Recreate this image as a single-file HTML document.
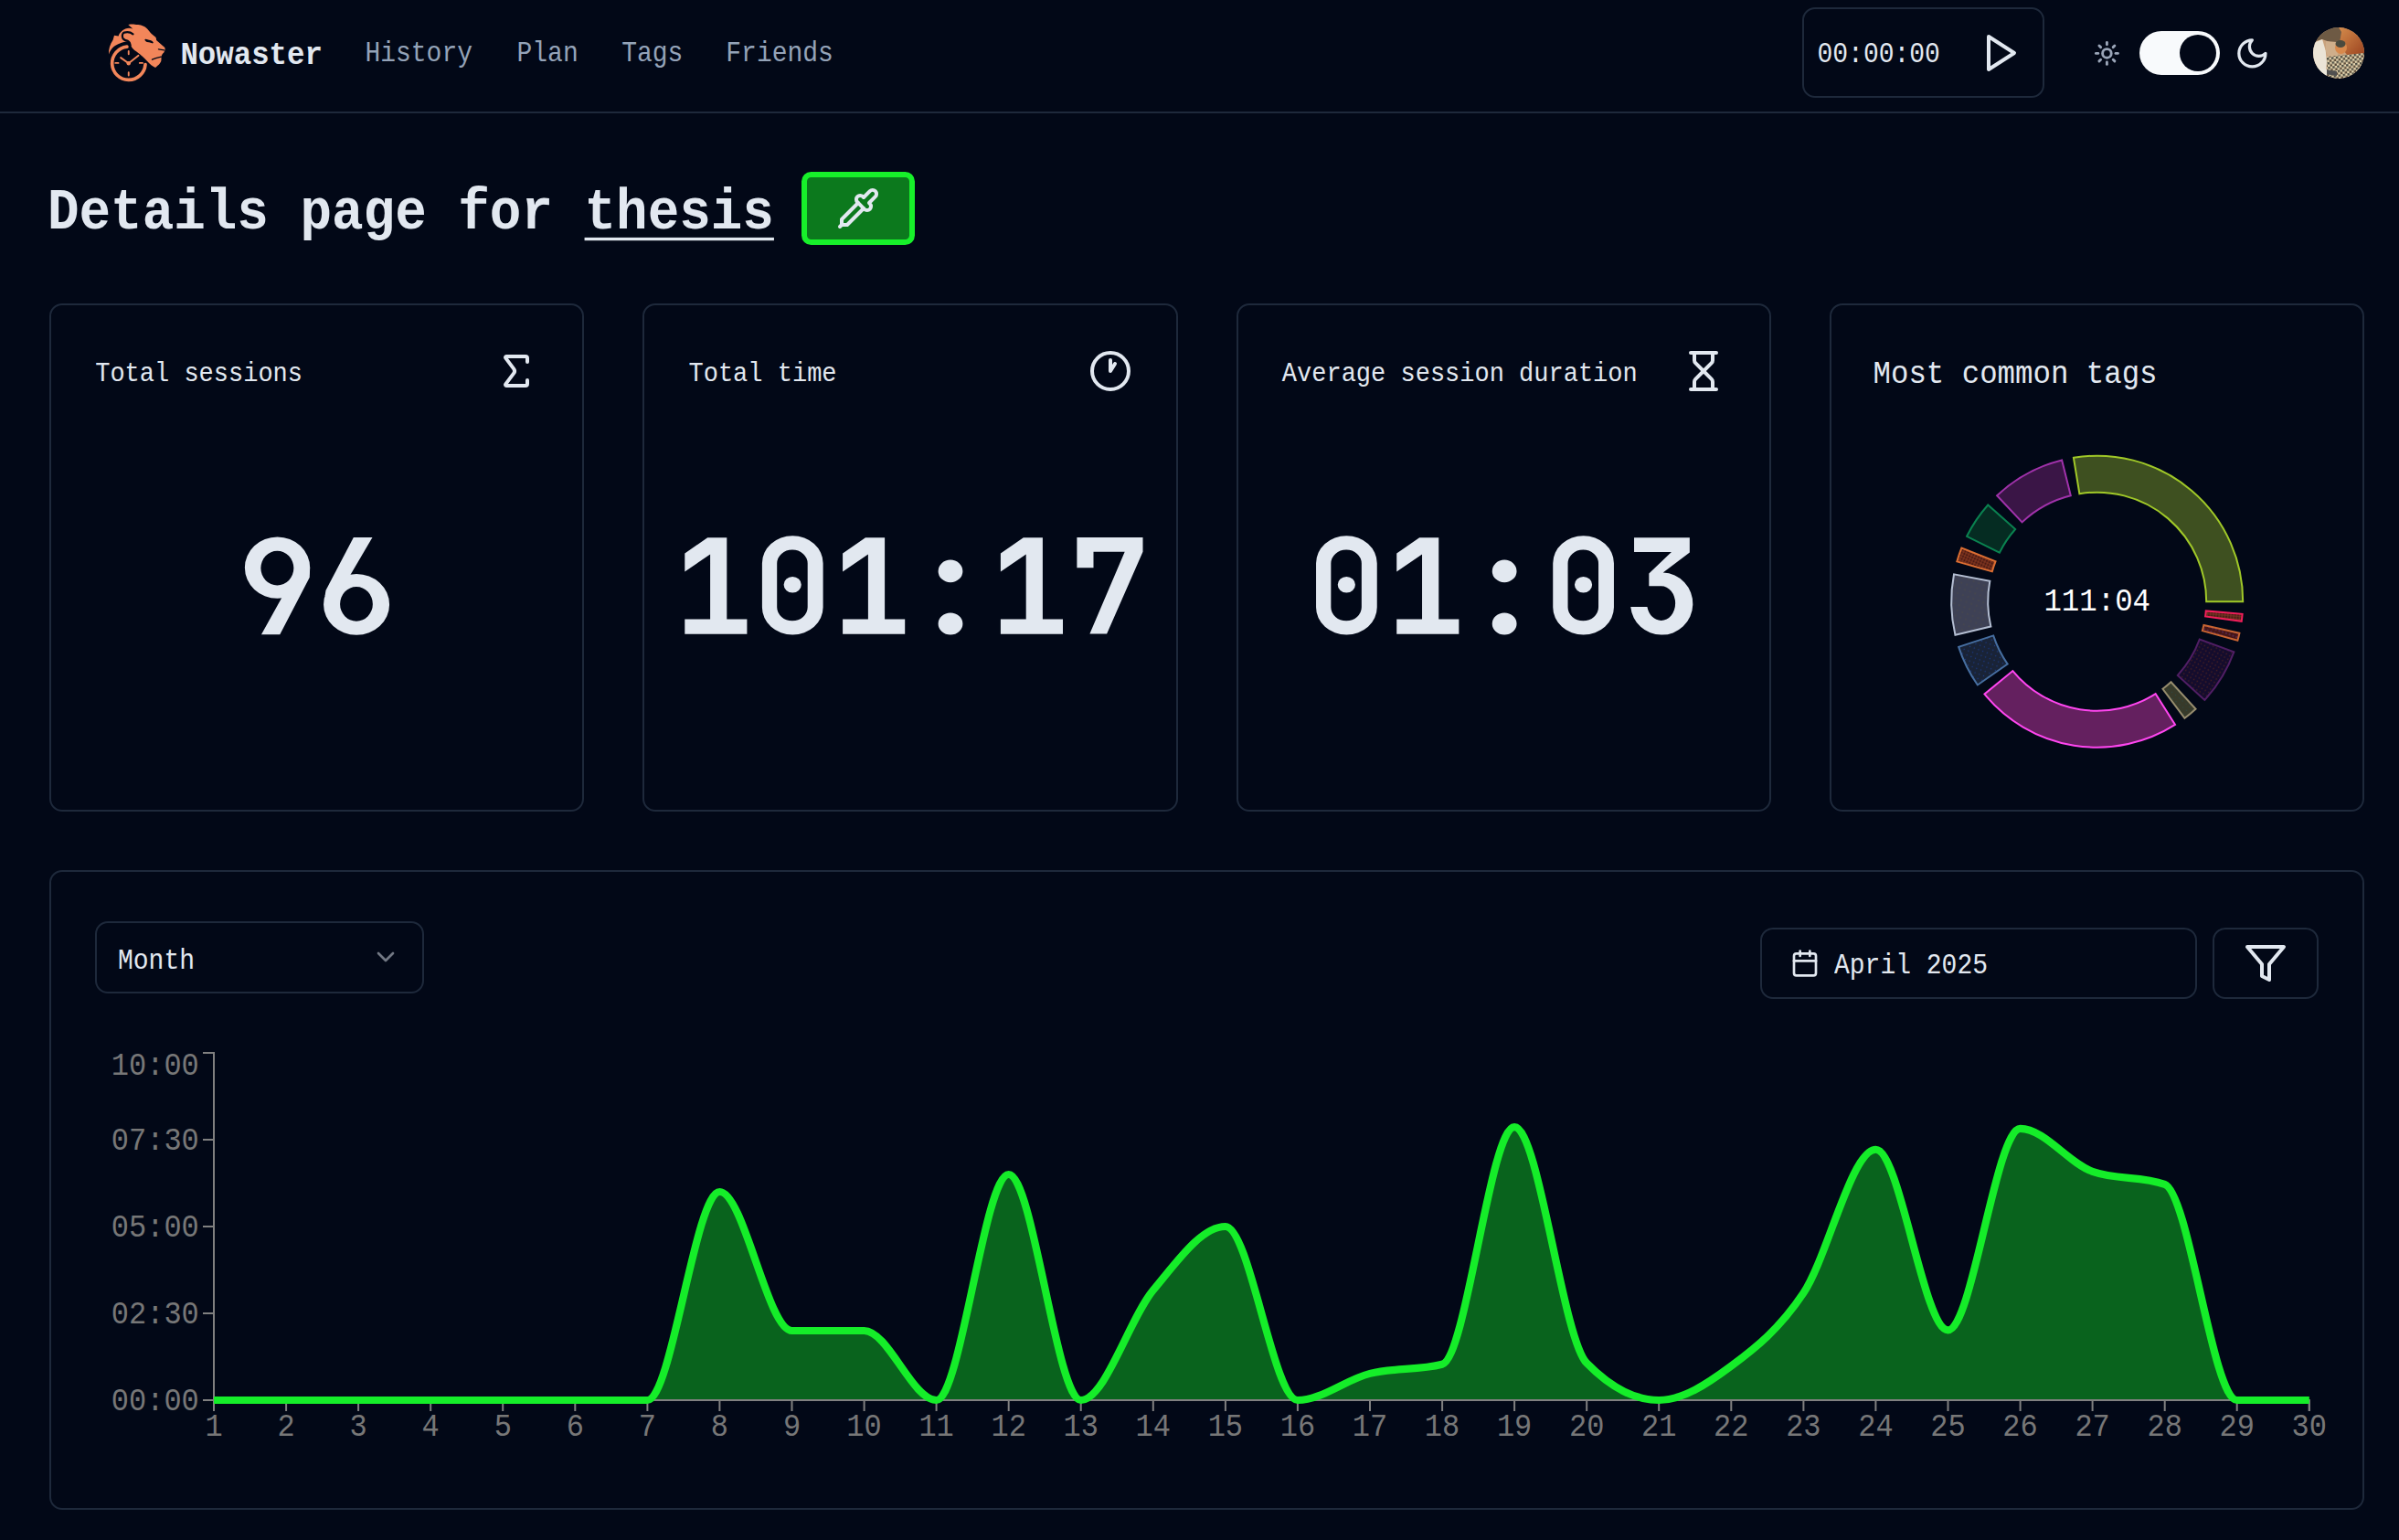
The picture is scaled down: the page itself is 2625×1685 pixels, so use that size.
<!DOCTYPE html>
<html><head><meta charset="utf-8"><style>
html,body{margin:0;padding:0;background:#020817;}
body{width:2625px;height:1685px;position:relative;overflow:hidden;font-family:"Liberation Mono",monospace;}
.t{position:absolute;white-space:pre;}
svg{overflow:visible}
</style></head><body>
<div style="position:absolute;left:0;top:0;width:2625px;height:122px;border-bottom:2px solid #1e293b"></div>
<svg style="position:absolute;left:112px;top:22px" width="75" height="72" viewBox="0 0 75 72">
<g fill="#f2865a">
<path d="M28.3,5.1 C31,4.6 33,4.5 35.5,4.7 C38,4.9 40.5,5.2 42.1,5.6 C44,6.2 45.5,6.8 46.8,7.5 C48.5,8.8 49.8,10.2 51,11.7 C52,13 52.8,14 53.8,15 C55.5,16.5 57,17.5 58.4,18.7 C59,19.8 59.2,21 59.1,22 L68.3,29.9 C68.7,30.8 68.7,31.8 68.5,32.7 L67.3,35.5 C66.5,36.2 65.8,36.8 65.5,37.4 C64.9,38.4 64.6,39.3 64.5,40.2 C64.6,41.8 64.5,43.4 64.3,44.9 C63.5,46.8 62.3,48.3 60.8,49.6 C60,50.6 59,51.4 58,51.9 C56.5,51.3 55,50.5 53.8,49.6 C52,48 50.5,46.5 49.1,44.9 C47.5,43.2 46,41.7 44.4,40.2 C42.2,38.2 39.8,36.3 37.4,34.6 C35.7,33.3 34,32 32.7,30.4 C31.8,29.2 31.2,27.8 30.9,26.2 L29.9,23.4 C28.7,23.5 27.4,23.4 26.2,23.4 C24.5,23.7 22.8,24.2 21,24.8 C18.5,25.7 16,26.8 14,28 C12,29.3 10.4,30.9 9.35,32.7 C8.3,34.2 7.5,35.8 7,37.4 C6.6,32.5 8.3,26.5 11.6,21.8 L13,16.8 L17.6,17.4 C18.5,14 21.2,11.2 25.2,9.4 C28,8.4 31,8.5 33.3,9.6 Z"/>
</g>
<g fill="none" stroke="#020817" stroke-linecap="round">
<path d="M33.5,15.3 C31,13.3 27,12.9 23.9,13.6 C21.7,14.5 21.4,17.5 22.4,19.8 C23.6,21.7 25.6,22.4 28,22.9 C29.5,23.6 30.2,25.5 30.6,27.4" stroke-width="2.2"/>
<path d="M47.3,21.6 C49.5,22.4 52,22.9 54.8,24.5" stroke-width="1.8"/>
<path d="M61.5,31.9 C63.5,32.2 65.5,32.6 67.5,32.9" stroke-width="1.4"/>
<path d="M54.5,43.2 C57.5,41.8 61,40.9 64.3,40.1" stroke-width="1.4"/>
</g>
<ellipse cx="51" cy="23.1" rx="4" ry="1.3" transform="rotate(14 51 23.1)" fill="#020817"/>
<g fill="none" stroke="#f2865a" stroke-linecap="round">
<path d="M26.9,29.1 A18.2,18.2 0 1 0 47.0,48.6" stroke-width="3.7"/>
<path d="M20.1,41.1 L28.75,47.2 L39.5,38.8" stroke-width="1.9"/>
<path d="M28.75,34 V37.2 M28.75,57.3 V60.5 M14.3,46.9 H17.5 M40.8,46.9 H44" stroke-width="1.9"/>
</g>
<circle cx="28.75" cy="47.2" r="2.2" fill="#f2865a"/>
</svg>

<div class="t" style="left:197.40px;top:45.78px;font-size:32.40px;line-height:32.40px;color:#e2e8f0;font-weight:700;transform:scaleY(1.1000);transform-origin:0 24.82px;">Nowaster</div>
<div class="t" style="left:399.40px;top:45.55px;font-size:28.00px;line-height:28.00px;color:#94a3b8;font-weight:400;transform:scaleY(1.1000);transform-origin:0 21.45px;">History</div>
<div class="t" style="left:565.50px;top:45.55px;font-size:28.00px;line-height:28.00px;color:#94a3b8;font-weight:400;transform:scaleY(1.1000);transform-origin:0 21.45px;">Plan</div>
<div class="t" style="left:680.20px;top:45.55px;font-size:28.00px;line-height:28.00px;color:#94a3b8;font-weight:400;transform:scaleY(1.1000);transform-origin:0 21.45px;">Tags</div>
<div class="t" style="left:794.30px;top:45.55px;font-size:28.00px;line-height:28.00px;color:#94a3b8;font-weight:400;transform:scaleY(1.1000);transform-origin:0 21.45px;">Friends</div>
<div style="position:absolute;left:1972px;top:8px;width:261px;height:95px;border:2px solid #1e293b;border-radius:14px"></div>
<div class="t" style="left:1988.50px;top:46.75px;font-size:28.00px;line-height:28.00px;color:#e2e8f0;font-weight:400;transform:scaleY(1.1000);transform-origin:0 21.45px;">00:00:00</div>
<svg style="position:absolute;left:2164px;top:34px" width="48" height="48" viewBox="0 0 24 24" fill="none" stroke="#e2e8f0" stroke-width="2" stroke-linecap="round" stroke-linejoin="round"><polygon points="6 3 20 12 6 21 6 3"/></svg>
<svg style="position:absolute;left:2290.6px;top:43.6px" width="28.8" height="28.8" viewBox="0 0 24 24" fill="none" stroke="#9aa5b8" stroke-width="2.4" stroke-linecap="round" stroke-linejoin="round"><circle cx="12" cy="12" r="4"/><path d="M12 2v2"/><path d="M12 20v2"/><path d="m4.93 4.93 1.41 1.41"/><path d="m17.66 17.66 1.41 1.41"/><path d="M2 12h2"/><path d="M20 12h2"/><path d="m6.34 17.66-1.41 1.41"/><path d="m19.07 4.93-1.41 1.41"/></svg>
<div style="position:absolute;left:2341px;top:34px;width:88px;height:48px;border-radius:24px;background:#f8fafc"></div>
<div style="position:absolute;left:2385px;top:38px;width:40px;height:40px;border-radius:20px;background:#020817"></div>
<svg style="position:absolute;left:2444.6px;top:38.8px" width="38.8" height="38.8" viewBox="0 0 24 24" fill="none" stroke="#e2e8f0" stroke-width="2" stroke-linecap="round" stroke-linejoin="round"><path d="M12 3a6 6 0 0 0 9 9 9 9 0 1 1-9-9Z"/></svg>
<svg style="position:absolute;left:2531.2px;top:30px" width="56" height="56" viewBox="0 0 56 56">
<defs>
<clipPath id="avc"><circle cx="28" cy="28" r="28"/></clipPath>
<pattern id="chess" width="5" height="5" patternUnits="userSpaceOnUse" patternTransform="rotate(-8)">
<rect width="5" height="5" fill="#e6d6b0"/><rect width="2.5" height="2.5" fill="#4a4a40"/><rect x="2.5" y="2.5" width="2.5" height="2.5" fill="#5a4a38"/>
</pattern>
<linearGradient id="avo" x1="0" y1="0" x2="1" y2="1"><stop offset="0" stop-color="#d58c4c"/><stop offset="1" stop-color="#9c4420"/></linearGradient>
</defs>
<g clip-path="url(#avc)">
<rect width="56" height="56" fill="#c9a27c"/>
<polygon points="28,0 56,0 56,30 37,30 31.8,23 28.2,13.9" fill="url(#avo)"/>
<polygon points="0,0 28,0 31,5 29,17 21,17 10,13 0,16" fill="#6e5a44"/>
<polygon points="0,17 10.1,13.1 13.7,25.2 14.9,37.3 13.7,56 0,56" fill="#ebe4d6"/>
<polygon points="14,15 26,16 27,31 17,34 13.7,25" fill="#cfae8a"/>
<ellipse cx="30.5" cy="22" rx="6.5" ry="7" fill="#d8894c"/>
<ellipse cx="30" cy="18" rx="5.5" ry="4" fill="#4a4a3e"/>
<polygon points="15,32 56,28 56,56 15,56" fill="url(#chess)"/>
<polygon points="13,46 26,48 26,53 13,51" fill="#505050"/>
<polygon points="0,44 15,46 15,56 0,56" fill="#ece8dc"/>
</g>
</svg>

<div class="t" style="left:52.00px;top:205.87px;font-size:57.60px;line-height:57.60px;color:#e2e8f0;font-weight:700;transform:scaleY(1.1000);transform-origin:0 44.13px;">Details page for <span style="text-decoration:underline;text-decoration-thickness:3px;text-underline-offset:9px">thesis</span></div>
<div style="position:absolute;left:877px;top:188px;width:124px;height:80px;box-sizing:border-box;border:6.2px solid #17f02a;border-radius:10.5px;background:#0c791d"></div>
<svg style="position:absolute;left:915px;top:204px" width="48" height="48" viewBox="0 0 24 24" fill="none" stroke="#e2e8f0" stroke-width="2" stroke-linecap="round" stroke-linejoin="round"><path d="m2 22 1-1h3l9-9"/><path d="M3 21v-3l9-9"/><path d="m15 6 3.4-3.4a2.1 2.1 0 1 1 3 3L18 9l.4.4a2.1 2.1 0 1 1-3 3l-3.8-3.8a2.1 2.1 0 1 1 3-3l.4.4Z"/></svg>
<div style="position:absolute;left:54.00px;top:332px;width:585.33px;height:556px;box-sizing:border-box;border:2px solid #1e293b;border-radius:14px"></div>
<div style="position:absolute;left:703.33px;top:332px;width:585.33px;height:556px;box-sizing:border-box;border:2px solid #1e293b;border-radius:14px"></div>
<div style="position:absolute;left:1352.67px;top:332px;width:585.33px;height:556px;box-sizing:border-box;border:2px solid #1e293b;border-radius:14px"></div>
<div style="position:absolute;left:2002.00px;top:332px;width:585.33px;height:556px;box-sizing:border-box;border:2px solid #1e293b;border-radius:14px"></div>
<div class="t" style="left:104.20px;top:396.91px;font-size:27.00px;line-height:27.00px;color:#e2e8f0;font-weight:400;transform:scaleY(1.1000);transform-origin:0 20.69px;">Total sessions</div>
<div class="t" style="left:753.53px;top:396.91px;font-size:27.00px;line-height:27.00px;color:#e2e8f0;font-weight:400;transform:scaleY(1.1000);transform-origin:0 20.69px;">Total time</div>
<div class="t" style="left:1402.87px;top:396.91px;font-size:27.00px;line-height:27.00px;color:#e2e8f0;font-weight:400;transform:scaleY(1.1000);transform-origin:0 20.69px;">Average session duration</div>
<div class="t" style="left:2049.50px;top:394.98px;font-size:32.40px;line-height:32.40px;color:#e2e8f0;font-weight:400;transform:scaleY(1.1000);transform-origin:0 24.82px;">Most common tags</div>
<svg style="position:absolute;left:541px;top:382px" width="48" height="48" viewBox="0 0 24 24" fill="none" stroke="#e2e8f0" stroke-width="2" stroke-linecap="round" stroke-linejoin="round"><path d="M18 7V5a1 1 0 0 0-1-1H6.5a.5.5 0 0 0-.4.8l4.5 6a2 2 0 0 1 0 2.4l-4.5 6a.5.5 0 0 0 .4.8H17a1 1 0 0 0 1-1v-2"/></svg>
<svg style="position:absolute;left:1191px;top:382px" width="48" height="48" viewBox="0 0 24 24" fill="none" stroke="#e2e8f0" stroke-width="2" stroke-linecap="round" stroke-linejoin="round"><circle cx="12" cy="12" r="10"/><polyline points="12 6 12 12 14.5 8"/></svg>
<svg style="position:absolute;left:1840px;top:382px" width="48" height="48" viewBox="0 0 24 24" fill="none" stroke="#e2e8f0" stroke-width="2" stroke-linecap="round" stroke-linejoin="round"><path d="M5 22h14"/><path d="M5 2h14"/><path d="M17 22v-4.172a2 2 0 0 0-.586-1.414L12 12l-4.414 4.414A2 2 0 0 0 7 17.828V22"/><path d="M7 2v4.172a2 2 0 0 0 .586 1.414L12 12l4.414-4.414A2 2 0 0 0 17 6.172V2"/></svg>
<svg style="position:absolute;left:0;top:0" width="2625" height="1685"><g fill="#e2e8f0"><path transform="translate(260.27,693.80)" fill-rule="evenodd" d="M7.60,-72.70A35.65,33.65,0,1,0,78.90,-72.70A35.65,33.65,0,1,0,7.60,-72.70ZM25.10,-72.20A18.00,18.80,0,1,0,61.10,-72.20A18.00,18.80,0,1,0,25.10,-72.20Z"/><path transform="translate(260.27,693.80)" fill-rule="nonzero" d="M25.7,0.5L46,0.5L78.5,-62L78.9,-72.7L65.3,-57.2L49.3,-42Z"/><path transform="translate(346.67,693.80)" fill-rule="evenodd" d="M7.40,-32.40A36.00,33.40,0,1,0,79.40,-32.40A36.00,33.40,0,1,0,7.40,-32.40ZM25.40,-32.90A17.90,18.80,0,1,0,61.20,-32.90A17.90,18.80,0,1,0,25.40,-32.90Z"/><path transform="translate(346.67,693.80)" fill-rule="nonzero" d="M40.2,-105.7L60.8,-105.7L33.8,-59.7L19.5,-43.8L8.9,-41.8L9.8,-47.9Z"/></g><g fill="#e2e8f0"><path transform="translate(736.80,693.80)" fill-rule="nonzero" d="M37.4,-105.6L58.5,-105.6L58.5,-16.4L80.6,-16.4L80.6,0L12.5,0L12.5,-16.4L40.3,-16.4L40.3,-87.4L12.5,-68.2L12.5,-88.3Z"/><path transform="translate(823.20,693.80)" fill-rule="evenodd" d="M10.7,-77.5A33.35,30,0,0,1,77.4,-77.5L77.4,-29.2A33.35,30,0,0,1,10.7,-29.2ZM27,-77.2A16.75,15,0,0,1,60.5,-77.2L60.5,-29.5A16.75,15,0,0,1,27,-29.5Z"/><path transform="translate(823.20,693.80)" fill-rule="nonzero" d="M34.40,-54.00A9.60,8.80,0,1,0,53.60,-54.00A9.60,8.80,0,1,0,34.40,-54.00Z"/><path transform="translate(909.60,693.80)" fill-rule="nonzero" d="M37.4,-105.6L58.5,-105.6L58.5,-16.4L80.6,-16.4L80.6,0L12.5,0L12.5,-16.4L40.3,-16.4L40.3,-87.4L12.5,-68.2L12.5,-88.3Z"/><path transform="translate(996.00,693.80)" fill-rule="nonzero" d="M30.60,-68.90A13.40,12.30,0,1,0,57.40,-68.90A13.40,12.30,0,1,0,30.60,-68.90ZM30.60,-11.20A13.40,12.00,0,1,0,57.40,-11.20A13.40,12.00,0,1,0,30.60,-11.20Z"/><path transform="translate(1082.40,693.80)" fill-rule="nonzero" d="M37.4,-105.6L58.5,-105.6L58.5,-16.4L80.6,-16.4L80.6,0L12.5,0L12.5,-16.4L40.3,-16.4L40.3,-87.4L12.5,-68.2L12.5,-88.3Z"/><path transform="translate(1168.80,693.80)" fill-rule="nonzero" d="M9.6,-105.8L81.7,-105.8L81.7,-90L42.3,-0.4L23.6,-0.4L61.9,-90L27.7,-90L27.7,-72.5L9.6,-72.5Z"/></g><g fill="#e2e8f0"><path transform="translate(1429.34,693.80)" fill-rule="evenodd" d="M10.7,-77.5A33.35,30,0,0,1,77.4,-77.5L77.4,-29.2A33.35,30,0,0,1,10.7,-29.2ZM27,-77.2A16.75,15,0,0,1,60.5,-77.2L60.5,-29.5A16.75,15,0,0,1,27,-29.5Z"/><path transform="translate(1429.34,693.80)" fill-rule="nonzero" d="M34.40,-54.00A9.60,8.80,0,1,0,53.60,-54.00A9.60,8.80,0,1,0,34.40,-54.00Z"/><path transform="translate(1515.74,693.80)" fill-rule="nonzero" d="M37.4,-105.6L58.5,-105.6L58.5,-16.4L80.6,-16.4L80.6,0L12.5,0L12.5,-16.4L40.3,-16.4L40.3,-87.4L12.5,-68.2L12.5,-88.3Z"/><path transform="translate(1602.14,693.80)" fill-rule="nonzero" d="M30.60,-68.90A13.40,12.30,0,1,0,57.40,-68.90A13.40,12.30,0,1,0,30.60,-68.90ZM30.60,-11.20A13.40,12.00,0,1,0,57.40,-11.20A13.40,12.00,0,1,0,30.60,-11.20Z"/><path transform="translate(1688.54,693.80)" fill-rule="evenodd" d="M10.7,-77.5A33.35,30,0,0,1,77.4,-77.5L77.4,-29.2A33.35,30,0,0,1,10.7,-29.2ZM27,-77.2A16.75,15,0,0,1,60.5,-77.2L60.5,-29.5A16.75,15,0,0,1,27,-29.5Z"/><path transform="translate(1688.54,693.80)" fill-rule="nonzero" d="M34.40,-54.00A9.60,8.80,0,1,0,53.60,-54.00A9.60,8.80,0,1,0,34.40,-54.00Z"/><path transform="translate(1774.94,693.80)" fill-rule="nonzero" d="M13.1,-105.6H73.9V-89.3L44.75,-67.2A33.6,34,0,0,1,42.8,0.8A33.6,34,0,0,1,9.3,-29.8L27.5,-29.8A15.4,18.8,0,0,0,42.8,-14.9A15.4,18.8,0,0,0,58.2,-33.7A15.4,18.8,0,0,0,42.8,-52.5L29.4,-52.5L29.4,-66.3L54,-89.7L13.1,-89.7Z"/></g></svg>
<svg style="position:absolute;left:0;top:0" width="2625" height="1685"><defs><pattern id="pHatchO" width="3.2" height="3.2" patternUnits="userSpaceOnUse" patternTransform="rotate(25)"><rect width="3.2" height="3.2" fill="#4a1a14"/><path d="M0,0.8H3.2M0.8,0V3.2" stroke="#8a3a20" stroke-width="0.9"/></pattern><pattern id="pHatchR" width="3.2" height="3.2" patternUnits="userSpaceOnUse" patternTransform="rotate(5)"><rect width="3.2" height="3.2" fill="#4a1c18"/><path d="M0,0.8H3.2M0.8,0V3.2" stroke="#7a3a22" stroke-width="0.9"/></pattern><pattern id="pDotsO" width="4" height="4" patternUnits="userSpaceOnUse" patternTransform="rotate(20)"><rect width="4" height="4" fill="#461616"/><circle cx="2" cy="2" r="0.7" fill="#6a3aa0"/></pattern><pattern id="pDotsP" width="4.2" height="4.2" patternUnits="userSpaceOnUse" patternTransform="rotate(30)"><rect width="4.2" height="4.2" fill="#140c2d"/><circle cx="2.1" cy="2.1" r="0.75" fill="#4a2020"/></pattern><pattern id="pDotsB" width="5" height="5" patternUnits="userSpaceOnUse" patternTransform="rotate(20)"><rect width="5" height="5" fill="#192337"/><circle cx="2.5" cy="2.5" r="0.7" fill="#1a3a8a"/></pattern><pattern id="pDotsG" width="6" height="6" patternUnits="userSpaceOnUse" patternTransform="rotate(20)"><rect width="6" height="6" fill="#3e4155"/><circle cx="3" cy="3" r="0.6" fill="#55503e"/></pattern><pattern id="pDotsK" width="5" height="5" patternUnits="userSpaceOnUse" patternTransform="rotate(40)"><rect width="5" height="5" fill="#373a2a"/><circle cx="2.5" cy="2.5" r="0.6" fill="#2a4a4a"/></pattern></defs><path d="M2454.20,658.20A159.50,159.50,0,0,0,2268.92,500.80L2275.39,540.27A119.50,119.50,0,0,1,2414.20,658.20Z" fill="#3e5020" stroke="#a0c828" stroke-width="2"/><path d="M2256.11,503.44A159.50,159.50,0,0,0,2185.11,542.31L2212.59,571.37A119.50,119.50,0,0,1,2265.79,542.25Z" fill="#3a1546" stroke="#a032aa" stroke-width="2"/><path d="M2175.24,552.51A159.50,159.50,0,0,0,2152.08,586.78L2187.85,604.69A119.50,119.50,0,0,1,2205.20,579.02Z" fill="#052c22" stroke="#0a8250" stroke-width="2"/><path d="M2146.40,599.48A159.50,159.50,0,0,0,2141.34,614.37L2179.80,625.36A119.50,119.50,0,0,1,2183.59,614.21Z" fill="url(#pHatchO)" stroke="#dc6e32" stroke-width="2"/><path d="M2138.03,628.31A159.50,159.50,0,0,0,2139.45,694.76L2178.38,685.59A119.50,119.50,0,0,1,2177.32,635.81Z" fill="url(#pDotsG)" stroke="#b4bed2" stroke-width="2"/><path d="M2143.14,707.89A159.50,159.50,0,0,0,2163.89,749.46L2196.69,726.57A119.50,119.50,0,0,1,2181.15,695.42Z" fill="url(#pDotsB)" stroke="#466ea0" stroke-width="2"/><path d="M2171.45,759.44A159.50,159.50,0,0,0,2380.05,792.94L2358.64,759.15A119.50,119.50,0,0,1,2202.36,734.05Z" fill="#64205f" stroke="#ff46f0" stroke-width="2"/><path d="M2390.47,785.75A159.50,159.50,0,0,0,2402.56,775.70L2375.51,746.23A119.50,119.50,0,0,1,2366.45,753.76Z" fill="url(#pDotsK)" stroke="#968c6e" stroke-width="2"/><path d="M2412.30,765.96A159.50,159.50,0,0,0,2444.39,713.28L2406.85,699.46A119.50,119.50,0,0,1,2382.80,738.93Z" fill="url(#pDotsP)" stroke="#501e64" stroke-width="2"/><path d="M2448.40,700.82A159.50,159.50,0,0,0,2450.42,692.72L2411.37,684.06A119.50,119.50,0,0,1,2409.85,690.13Z" fill="url(#pDotsO)" stroke="#c86432" stroke-width="2"/><path d="M2452.72,679.85A159.50,159.50,0,0,0,2453.62,671.82L2413.76,668.41A119.50,119.50,0,0,1,2413.09,674.42Z" fill="url(#pHatchR)" stroke="#f01e5a" stroke-width="2"/></svg>
<div class="t" style="left:2236.38px;top:643.78px;font-size:32.40px;line-height:32.40px;color:#ffffff;font-weight:400;transform:scaleY(1.1000);transform-origin:0 24.82px;">111:04</div>
<div style="position:absolute;left:54px;top:952px;width:2533px;height:700px;box-sizing:border-box;border:2px solid #1e293b;border-radius:14px"></div>
<div style="position:absolute;left:104px;top:1008px;width:360px;height:79px;box-sizing:border-box;border:2px solid #1e293b;border-radius:14px"></div>
<div class="t" style="left:129.00px;top:1038.55px;font-size:28.00px;line-height:28.00px;color:#e2e8f0;font-weight:400;transform:scaleY(1.1000);transform-origin:0 21.45px;">Month</div>
<svg style="position:absolute;left:406px;top:1031.3px;opacity:.5" width="32" height="32" viewBox="0 0 24 24" fill="none" stroke="#e2e8f0" stroke-width="2" stroke-linecap="round" stroke-linejoin="round"><path d="m6 9 6 6 6-6"/></svg>
<div style="position:absolute;left:1926px;top:1015px;width:478px;height:78px;box-sizing:border-box;border:2px solid #1e293b;border-radius:14px"></div>
<svg style="position:absolute;left:1958.6px;top:1038.2px" width="32" height="32" viewBox="0 0 24 24" fill="none" stroke="#e2e8f0" stroke-width="2" stroke-linecap="round" stroke-linejoin="round"><path d="M8 2v4"/><path d="M16 2v4"/><rect width="18" height="18" x="3" y="4" rx="2"/><path d="M3 10h18"/></svg>
<div class="t" style="left:2007.00px;top:1043.75px;font-size:28.00px;line-height:28.00px;color:#e2e8f0;font-weight:400;transform:scaleY(1.1000);transform-origin:0 21.45px;">April 2025</div>
<div style="position:absolute;left:2421px;top:1015px;width:116px;height:78px;box-sizing:border-box;border:2px solid #1e293b;border-radius:14px"></div>
<svg style="position:absolute;left:2455px;top:1030px" width="48" height="48" viewBox="0 0 24 24" fill="none" stroke="#e2e8f0" stroke-width="2" stroke-linecap="round" stroke-linejoin="round"><polygon points="22 3 2 3 10 12.46 10 19 14 21 14 12.46 22 3"/></svg>
<svg style="position:absolute;left:0;top:0" width="2625" height="1685"><path d="M234.00,1532.00C260.35,1532.00,286.71,1532.00,313.06,1532.00C339.42,1532.00,365.77,1532.00,392.12,1532.00C418.48,1532.00,444.83,1532.00,471.19,1532.00C497.54,1532.00,523.89,1532.00,550.25,1532.00C576.60,1532.00,602.96,1532.00,629.31,1532.00C655.66,1532.00,682.02,1532.00,708.37,1532.00C734.73,1532.00,761.08,1304.00,787.43,1304.00C813.79,1304.00,840.14,1456.00,866.50,1456.00C892.85,1456.00,919.20,1456.00,945.56,1456.00C971.91,1456.00,998.27,1532.00,1024.62,1532.00C1050.97,1532.00,1077.33,1285.00,1103.68,1285.00C1130.04,1285.00,1156.39,1532.00,1182.74,1532.00C1209.10,1532.00,1235.45,1443.33,1261.81,1411.67C1288.16,1380.00,1314.51,1342.00,1340.87,1342.00C1367.22,1342.00,1393.58,1532.00,1419.93,1532.00C1446.29,1532.00,1472.64,1509.41,1498.99,1502.87C1525.35,1496.32,1551.70,1499.49,1578.06,1492.73C1604.41,1485.98,1630.76,1233.07,1657.12,1233.07C1683.47,1233.07,1709.83,1464.44,1736.18,1491.47C1762.53,1518.49,1788.89,1532.00,1815.24,1532.00C1841.60,1532.00,1867.95,1514.16,1894.30,1494.63C1920.66,1475.11,1947.01,1454.31,1973.37,1414.83C1999.72,1375.36,2026.07,1257.77,2052.43,1257.77C2078.78,1257.77,2105.14,1455.37,2131.49,1455.37C2157.84,1455.37,2184.20,1234.97,2210.55,1234.97C2236.91,1234.97,2263.26,1272.54,2289.61,1281.83C2315.97,1291.12,2342.32,1286.48,2368.68,1295.77C2395.03,1305.06,2421.38,1532.00,2447.74,1532.00C2474.09,1532.00,2500.45,1532.00,2526.80,1532.00L2526.80,1532.00L234.00,1532.00Z" fill="#15ed29" fill-opacity="0.4"/><path d="M222,1152.0H234V1544.0" fill="none" stroke="#808080" stroke-width="2"/><line x1="222" x2="234" y1="1437.0" y2="1437.0" stroke="#808080" stroke-width="2"/><line x1="222" x2="234" y1="1342.0" y2="1342.0" stroke="#808080" stroke-width="2"/><line x1="222" x2="234" y1="1247.0" y2="1247.0" stroke="#808080" stroke-width="2"/><line x1="222" x2="234" y1="1152.0" y2="1152.0" stroke="#808080" stroke-width="2"/><line x1="222" x2="234" y1="1532.0" y2="1532.0" stroke="#808080" stroke-width="2"/><path d="M234,1532.0H2526.8V1544.0" fill="none" stroke="#808080" stroke-width="2"/><line x1="234.0" x2="234.0" y1="1532.0" y2="1544.0" stroke="#808080" stroke-width="2"/><line x1="313.1" x2="313.1" y1="1532.0" y2="1544.0" stroke="#808080" stroke-width="2"/><line x1="392.1" x2="392.1" y1="1532.0" y2="1544.0" stroke="#808080" stroke-width="2"/><line x1="471.2" x2="471.2" y1="1532.0" y2="1544.0" stroke="#808080" stroke-width="2"/><line x1="550.2" x2="550.2" y1="1532.0" y2="1544.0" stroke="#808080" stroke-width="2"/><line x1="629.3" x2="629.3" y1="1532.0" y2="1544.0" stroke="#808080" stroke-width="2"/><line x1="708.4" x2="708.4" y1="1532.0" y2="1544.0" stroke="#808080" stroke-width="2"/><line x1="787.4" x2="787.4" y1="1532.0" y2="1544.0" stroke="#808080" stroke-width="2"/><line x1="866.5" x2="866.5" y1="1532.0" y2="1544.0" stroke="#808080" stroke-width="2"/><line x1="945.6" x2="945.6" y1="1532.0" y2="1544.0" stroke="#808080" stroke-width="2"/><line x1="1024.6" x2="1024.6" y1="1532.0" y2="1544.0" stroke="#808080" stroke-width="2"/><line x1="1103.7" x2="1103.7" y1="1532.0" y2="1544.0" stroke="#808080" stroke-width="2"/><line x1="1182.7" x2="1182.7" y1="1532.0" y2="1544.0" stroke="#808080" stroke-width="2"/><line x1="1261.8" x2="1261.8" y1="1532.0" y2="1544.0" stroke="#808080" stroke-width="2"/><line x1="1340.9" x2="1340.9" y1="1532.0" y2="1544.0" stroke="#808080" stroke-width="2"/><line x1="1419.9" x2="1419.9" y1="1532.0" y2="1544.0" stroke="#808080" stroke-width="2"/><line x1="1499.0" x2="1499.0" y1="1532.0" y2="1544.0" stroke="#808080" stroke-width="2"/><line x1="1578.1" x2="1578.1" y1="1532.0" y2="1544.0" stroke="#808080" stroke-width="2"/><line x1="1657.1" x2="1657.1" y1="1532.0" y2="1544.0" stroke="#808080" stroke-width="2"/><line x1="1736.2" x2="1736.2" y1="1532.0" y2="1544.0" stroke="#808080" stroke-width="2"/><line x1="1815.2" x2="1815.2" y1="1532.0" y2="1544.0" stroke="#808080" stroke-width="2"/><line x1="1894.3" x2="1894.3" y1="1532.0" y2="1544.0" stroke="#808080" stroke-width="2"/><line x1="1973.4" x2="1973.4" y1="1532.0" y2="1544.0" stroke="#808080" stroke-width="2"/><line x1="2052.4" x2="2052.4" y1="1532.0" y2="1544.0" stroke="#808080" stroke-width="2"/><line x1="2131.5" x2="2131.5" y1="1532.0" y2="1544.0" stroke="#808080" stroke-width="2"/><line x1="2210.6" x2="2210.6" y1="1532.0" y2="1544.0" stroke="#808080" stroke-width="2"/><line x1="2289.6" x2="2289.6" y1="1532.0" y2="1544.0" stroke="#808080" stroke-width="2"/><line x1="2368.7" x2="2368.7" y1="1532.0" y2="1544.0" stroke="#808080" stroke-width="2"/><line x1="2447.7" x2="2447.7" y1="1532.0" y2="1544.0" stroke="#808080" stroke-width="2"/><line x1="2526.8" x2="2526.8" y1="1532.0" y2="1544.0" stroke="#808080" stroke-width="2"/><path d="M234.00,1532.00C260.35,1532.00,286.71,1532.00,313.06,1532.00C339.42,1532.00,365.77,1532.00,392.12,1532.00C418.48,1532.00,444.83,1532.00,471.19,1532.00C497.54,1532.00,523.89,1532.00,550.25,1532.00C576.60,1532.00,602.96,1532.00,629.31,1532.00C655.66,1532.00,682.02,1532.00,708.37,1532.00C734.73,1532.00,761.08,1304.00,787.43,1304.00C813.79,1304.00,840.14,1456.00,866.50,1456.00C892.85,1456.00,919.20,1456.00,945.56,1456.00C971.91,1456.00,998.27,1532.00,1024.62,1532.00C1050.97,1532.00,1077.33,1285.00,1103.68,1285.00C1130.04,1285.00,1156.39,1532.00,1182.74,1532.00C1209.10,1532.00,1235.45,1443.33,1261.81,1411.67C1288.16,1380.00,1314.51,1342.00,1340.87,1342.00C1367.22,1342.00,1393.58,1532.00,1419.93,1532.00C1446.29,1532.00,1472.64,1509.41,1498.99,1502.87C1525.35,1496.32,1551.70,1499.49,1578.06,1492.73C1604.41,1485.98,1630.76,1233.07,1657.12,1233.07C1683.47,1233.07,1709.83,1464.44,1736.18,1491.47C1762.53,1518.49,1788.89,1532.00,1815.24,1532.00C1841.60,1532.00,1867.95,1514.16,1894.30,1494.63C1920.66,1475.11,1947.01,1454.31,1973.37,1414.83C1999.72,1375.36,2026.07,1257.77,2052.43,1257.77C2078.78,1257.77,2105.14,1455.37,2131.49,1455.37C2157.84,1455.37,2184.20,1234.97,2210.55,1234.97C2236.91,1234.97,2263.26,1272.54,2289.61,1281.83C2315.97,1291.12,2342.32,1286.48,2368.68,1295.77C2395.03,1305.06,2421.38,1532.00,2447.74,1532.00C2474.09,1532.00,2500.45,1532.00,2526.80,1532.00" fill="none" stroke="#15ed29" stroke-width="8.2"/></svg>
<div class="t" style="left:121.80px;top:1152.48px;font-size:32.00px;line-height:32.00px;color:#777777;font-weight:400;transform:scaleY(1.1000);transform-origin:0 24.52px;">10:00</div>
<div class="t" style="left:121.80px;top:1233.98px;font-size:32.00px;line-height:32.00px;color:#777777;font-weight:400;transform:scaleY(1.1000);transform-origin:0 24.52px;">07:30</div>
<div class="t" style="left:121.80px;top:1328.98px;font-size:32.00px;line-height:32.00px;color:#777777;font-weight:400;transform:scaleY(1.1000);transform-origin:0 24.52px;">05:00</div>
<div class="t" style="left:121.80px;top:1423.98px;font-size:32.00px;line-height:32.00px;color:#777777;font-weight:400;transform:scaleY(1.1000);transform-origin:0 24.52px;">02:30</div>
<div class="t" style="left:121.80px;top:1518.98px;font-size:32.00px;line-height:32.00px;color:#777777;font-weight:400;transform:scaleY(1.1000);transform-origin:0 24.52px;">00:00</div>
<div class="t" style="left:224.40px;top:1547.18px;font-size:32.00px;line-height:32.00px;color:#777777;font-weight:400;transform:scaleY(1.1000);transform-origin:0 24.52px;">1</div>
<div class="t" style="left:303.46px;top:1547.18px;font-size:32.00px;line-height:32.00px;color:#777777;font-weight:400;transform:scaleY(1.1000);transform-origin:0 24.52px;">2</div>
<div class="t" style="left:382.52px;top:1547.18px;font-size:32.00px;line-height:32.00px;color:#777777;font-weight:400;transform:scaleY(1.1000);transform-origin:0 24.52px;">3</div>
<div class="t" style="left:461.59px;top:1547.18px;font-size:32.00px;line-height:32.00px;color:#777777;font-weight:400;transform:scaleY(1.1000);transform-origin:0 24.52px;">4</div>
<div class="t" style="left:540.65px;top:1547.18px;font-size:32.00px;line-height:32.00px;color:#777777;font-weight:400;transform:scaleY(1.1000);transform-origin:0 24.52px;">5</div>
<div class="t" style="left:619.71px;top:1547.18px;font-size:32.00px;line-height:32.00px;color:#777777;font-weight:400;transform:scaleY(1.1000);transform-origin:0 24.52px;">6</div>
<div class="t" style="left:698.77px;top:1547.18px;font-size:32.00px;line-height:32.00px;color:#777777;font-weight:400;transform:scaleY(1.1000);transform-origin:0 24.52px;">7</div>
<div class="t" style="left:777.83px;top:1547.18px;font-size:32.00px;line-height:32.00px;color:#777777;font-weight:400;transform:scaleY(1.1000);transform-origin:0 24.52px;">8</div>
<div class="t" style="left:856.90px;top:1547.18px;font-size:32.00px;line-height:32.00px;color:#777777;font-weight:400;transform:scaleY(1.1000);transform-origin:0 24.52px;">9</div>
<div class="t" style="left:926.36px;top:1547.18px;font-size:32.00px;line-height:32.00px;color:#777777;font-weight:400;transform:scaleY(1.1000);transform-origin:0 24.52px;">10</div>
<div class="t" style="left:1005.42px;top:1547.18px;font-size:32.00px;line-height:32.00px;color:#777777;font-weight:400;transform:scaleY(1.1000);transform-origin:0 24.52px;">11</div>
<div class="t" style="left:1084.48px;top:1547.18px;font-size:32.00px;line-height:32.00px;color:#777777;font-weight:400;transform:scaleY(1.1000);transform-origin:0 24.52px;">12</div>
<div class="t" style="left:1163.54px;top:1547.18px;font-size:32.00px;line-height:32.00px;color:#777777;font-weight:400;transform:scaleY(1.1000);transform-origin:0 24.52px;">13</div>
<div class="t" style="left:1242.61px;top:1547.18px;font-size:32.00px;line-height:32.00px;color:#777777;font-weight:400;transform:scaleY(1.1000);transform-origin:0 24.52px;">14</div>
<div class="t" style="left:1321.67px;top:1547.18px;font-size:32.00px;line-height:32.00px;color:#777777;font-weight:400;transform:scaleY(1.1000);transform-origin:0 24.52px;">15</div>
<div class="t" style="left:1400.73px;top:1547.18px;font-size:32.00px;line-height:32.00px;color:#777777;font-weight:400;transform:scaleY(1.1000);transform-origin:0 24.52px;">16</div>
<div class="t" style="left:1479.79px;top:1547.18px;font-size:32.00px;line-height:32.00px;color:#777777;font-weight:400;transform:scaleY(1.1000);transform-origin:0 24.52px;">17</div>
<div class="t" style="left:1558.86px;top:1547.18px;font-size:32.00px;line-height:32.00px;color:#777777;font-weight:400;transform:scaleY(1.1000);transform-origin:0 24.52px;">18</div>
<div class="t" style="left:1637.92px;top:1547.18px;font-size:32.00px;line-height:32.00px;color:#777777;font-weight:400;transform:scaleY(1.1000);transform-origin:0 24.52px;">19</div>
<div class="t" style="left:1716.98px;top:1547.18px;font-size:32.00px;line-height:32.00px;color:#777777;font-weight:400;transform:scaleY(1.1000);transform-origin:0 24.52px;">20</div>
<div class="t" style="left:1796.04px;top:1547.18px;font-size:32.00px;line-height:32.00px;color:#777777;font-weight:400;transform:scaleY(1.1000);transform-origin:0 24.52px;">21</div>
<div class="t" style="left:1875.10px;top:1547.18px;font-size:32.00px;line-height:32.00px;color:#777777;font-weight:400;transform:scaleY(1.1000);transform-origin:0 24.52px;">22</div>
<div class="t" style="left:1954.17px;top:1547.18px;font-size:32.00px;line-height:32.00px;color:#777777;font-weight:400;transform:scaleY(1.1000);transform-origin:0 24.52px;">23</div>
<div class="t" style="left:2033.23px;top:1547.18px;font-size:32.00px;line-height:32.00px;color:#777777;font-weight:400;transform:scaleY(1.1000);transform-origin:0 24.52px;">24</div>
<div class="t" style="left:2112.29px;top:1547.18px;font-size:32.00px;line-height:32.00px;color:#777777;font-weight:400;transform:scaleY(1.1000);transform-origin:0 24.52px;">25</div>
<div class="t" style="left:2191.35px;top:1547.18px;font-size:32.00px;line-height:32.00px;color:#777777;font-weight:400;transform:scaleY(1.1000);transform-origin:0 24.52px;">26</div>
<div class="t" style="left:2270.41px;top:1547.18px;font-size:32.00px;line-height:32.00px;color:#777777;font-weight:400;transform:scaleY(1.1000);transform-origin:0 24.52px;">27</div>
<div class="t" style="left:2349.48px;top:1547.18px;font-size:32.00px;line-height:32.00px;color:#777777;font-weight:400;transform:scaleY(1.1000);transform-origin:0 24.52px;">28</div>
<div class="t" style="left:2428.54px;top:1547.18px;font-size:32.00px;line-height:32.00px;color:#777777;font-weight:400;transform:scaleY(1.1000);transform-origin:0 24.52px;">29</div>
<div class="t" style="left:2507.60px;top:1547.18px;font-size:32.00px;line-height:32.00px;color:#777777;font-weight:400;transform:scaleY(1.1000);transform-origin:0 24.52px;">30</div>
</body></html>
